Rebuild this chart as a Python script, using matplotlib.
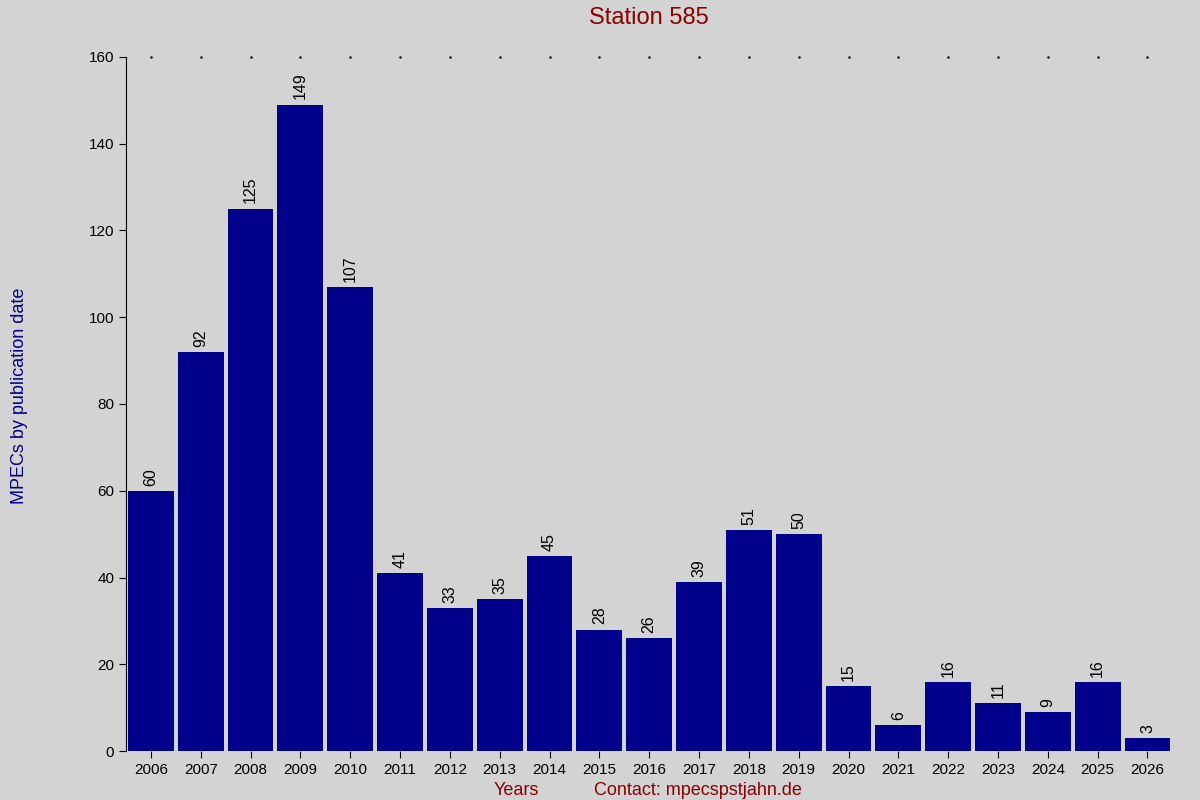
import matplotlib.pyplot as plt

years = [str(y) for y in range(2006, 2027)]
counts = [60, 92, 125, 149, 107, 41, 33, 35, 45, 28, 26, 39, 51, 50, 15, 6, 16, 11, 9, 16, 3]

bg = "#d3d3d3"
fig = plt.figure(figsize=(12, 8), dpi=100, facecolor=bg)
ax = fig.add_axes([0.105, 0.061, 0.872, 0.868], facecolor=bg)

x = range(len(years))
ax.bar(x, counts, width=0.92, color="#00008b")
for i, v in zip(x, counts):
    ax.text(i, v + 1.2, str(v), rotation=90, ha="center", va="bottom", fontsize=11.5, family="Liberation Sans")

ax.set_xlim(-0.5, len(years) - 0.5)
ax.set_ylim(0, 160)
ax.set_yticks(range(0, 161, 20))
ax.set_xticks(list(x))
ax.set_xticklabels(years)
for s in ["top", "right", "bottom"]:
    ax.spines[s].set_visible(False)
ax.tick_params(labelsize=11, length=5)
for lab in ax.get_xticklabels() + ax.get_yticklabels():
    lab.set_family("Liberation Sans")
# small dots along the top
for i in x:
    ax.plot(i, 160, marker=".", markersize=1.5, color="black", clip_on=False)

fig.text(0.541, 0.97, "Station 585", color="#8b0000", fontsize=17, ha="center", family="Liberation Sans")
fig.text(0.43, 0.006, "Years", color="#8b0000", fontsize=13, ha="center", family="Liberation Sans")
fig.text(0.582, 0.006, "Contact: mpecspstjahn.de", color="#8b0000", fontsize=13, ha="center", family="Liberation Sans")
fig.text(0.009, 0.505, "MPECs by publication date", color="#00008b", fontsize=13, rotation=90, va="center", family="Liberation Sans")

fig.savefig("out.png", facecolor=bg)
